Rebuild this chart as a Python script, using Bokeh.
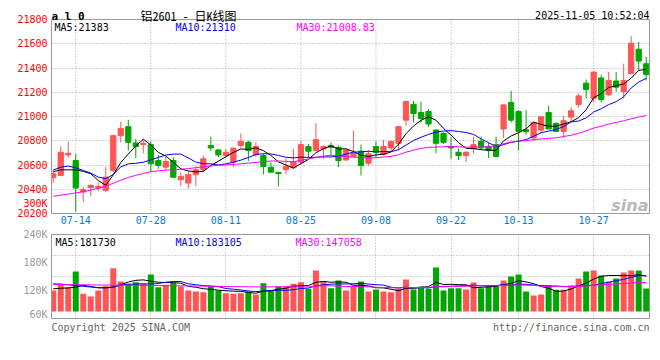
import numpy as np
import pandas as pd
from bokeh.plotting import figure
from bokeh.layouts import column
from bokeh.models import Range1d, FixedTicker, Label, ColumnDataSource, Span, LinearAxis
from bokeh.embed import file_html
from bokeh.resources import INLINE

# ---------------- data ----------------
dates = [
    "07-09", "07-10", "07-11", "07-14", "07-15", "07-16", "07-17", "07-18", "07-21", "07-22",
    "07-23", "07-24", "07-25", "07-28", "07-29", "07-30", "07-31", "08-01", "08-04", "08-05",
    "08-06", "08-07", "08-08", "08-11", "08-12", "08-13", "08-14", "08-15", "08-18", "08-19",
    "08-20", "08-21", "08-22", "08-25", "08-26", "08-27", "08-28", "08-29", "09-01", "09-02",
    "09-03", "09-04", "09-05", "09-08", "09-09", "09-10", "09-11", "09-12", "09-15", "09-16",
    "09-17", "09-18", "09-19", "09-22", "09-23", "09-24", "09-25", "09-26", "09-29", "09-30",
    "10-09", "10-10", "10-13", "10-14", "10-15", "10-16", "10-17", "10-20", "10-21", "10-22",
    "10-23", "10-24", "10-27", "10-28", "10-29", "10-30", "10-31", "11-03", "11-04", "11-05",
]
open_ = [20495, 20514, 20683, 20637, 20377, 20413, 20410, 20391, 20555, 20842,
         20916, 20782, 20768, 20768, 20637, 20582, 20637, 20479, 20451, 20520,
         20561, 20760, 20724, 20678, 20623, 20760, 20787, 20686, 20678, 20582,
         20539, 20561, 20577, 20623, 20752, 20719, 20733, 20760, 20746, 20642,
         20670, 20714, 20615, 20752, 20686, 20741, 20779, 20970, 21101, 21033,
         21041, 20888, 20861, 20752, 20705, 20678, 20733, 20795, 20752, 20768,
         20897, 21115, 21041, 20891, 20823, 20888, 21033, 20943, 20877, 20995,
         21100, 21275, 21151, 21318, 21180, 21293, 21205, 21356, 21555, 21435]
high = [20555, 20752, 20793, 20692, 20418, 20440, 20454, 20582, 20850, 20957,
        20973, 20815, 20809, 20795, 20683, 20664, 20664, 20541, 20541, 20588,
        20678, 20834, 20733, 20733, 20746, 20861, 20801, 20787, 20692, 20623,
        20545, 20656, 20733, 20801, 20774, 20946, 20760, 20787, 20760, 20733,
        20883, 20768, 20719, 20795, 20806, 20801, 20924, 21129, 21129, 21123,
        21060, 20897, 20869, 20828, 20738, 20714, 20834, 20834, 20787, 20834,
        21096, 21211, 21052, 21052, 20951, 20998, 21088, 20951, 21006, 21075,
        21189, 21306, 21375, 21342, 21366, 21366, 21435, 21662, 21615, 21492]
low = [20451, 20510, 20659, 20214, 20296, 20342, 20386, 20377, 20541, 20787,
       20719, 20656, 20697, 20541, 20569, 20555, 20495, 20424, 20405, 20424,
       20541, 20714, 20664, 20664, 20582, 20741, 20632, 20664, 20522, 20533,
       20424, 20522, 20569, 20610, 20664, 20714, 20651, 20678, 20582, 20632,
       20665, 20514, 20596, 20664, 20678, 20705, 20724, 20924, 20951, 20951,
       20916, 20697, 20774, 20651, 20642, 20623, 20697, 20724, 20659, 20670,
       20823, 20951, 20719, 20850, 20801, 20861, 20897, 20877, 20823, 20960,
       21075, 21150, 21115, 21115, 21170, 21205, 21151, 21347, 21380, 21298]
close = [20528, 20705, 20697, 20410, 20397, 20432, 20424, 20500, 20842, 20902,
         20787, 20752, 20779, 20610, 20596, 20629, 20500, 20506, 20520, 20561,
         20651, 20741, 20683, 20705, 20738, 20795, 20719, 20752, 20588, 20541,
         20530, 20588, 20629, 20768, 20714, 20809, 20752, 20746, 20637, 20724,
         20700, 20596, 20692, 20705, 20752, 20793, 20916, 21123, 21025, 20984,
         20938, 20779, 20787, 20741, 20678, 20705, 20768, 20741, 20719, 20670,
         21096, 20970, 20877, 20875, 20951, 20998, 20897, 20877, 20965, 21047,
         21170, 21222, 21366, 21140, 21298, 21242, 21298, 21604, 21457, 21347]
volume = [120000, 134300, 127100, 160700, 112900, 107100, 120000, 129300, 167900, 139300,
          134300, 137900, 134300, 154300, 127100, 132100, 136400, 128600, 120000, 117900,
          116400, 129300, 120000, 114300, 112900, 114300, 117900, 111400, 135700, 120000,
          128600, 128600, 134300, 137900, 123600, 162900, 139300, 125000, 141400, 120000,
          130700, 139300, 117900, 122100, 117900, 116400, 123600, 143600, 122100, 128600,
          123600, 169300, 120000, 125000, 125000, 122100, 137100, 125000, 130700, 128600,
          141400, 150000, 154300, 117900, 109300, 111400, 130700, 121400, 121400, 130700,
          145700, 160700, 162900, 152100, 139300, 145700, 158600, 162900, 162900, 124300]

# moving-average values before enough history is on the chart
ma5_head = [20545, 20560, 20560, 20560]
ma10_head = [20558, 20582, 20591, 20577, 20555, 20533, 20500, 20487, 20522]
ma30_head = [20342, 20351, 20360, 20370, 20380, 20392, 20408, 20425, 20450, 20475,
             20497, 20515, 20530, 20545, 20552, 20557, 20560, 20565, 20570, 20578,
             20585, 20592, 20597, 20601, 20605, 20610, 20615, 20621, 20628]
vol_ma5_head = [123600, 124800, 125500, 127200]
vol_ma10_head = [134300, 133500, 132000, 130600, 129000, 127500, 126300, 125600, 126800]
vol_ma30_head = [133000, 132900, 132700, 132600, 132200, 132000, 131900, 131600, 131500, 131400,
                 131200, 131100, 131000, 130800, 130700, 130500, 130300, 130100, 129900, 129600,
                 129300, 129000, 128800, 128600, 128400, 128200, 128000, 127800, 127700]

price_lo, price_hi = 20200, 21800
price_ticks = [20200, 20400, 20600, 20800, 21000, 21200, 21400, 21600, 21800]
price_grid = [20400, 20600, 20800, 21000, 21200, 21400, 21600]
stray_label_value = 20282          # the "300K" left over in the price scale
stray_label_text = "300K"
vol_ticks = [60000, 120000, 180000, 240000]
vol_tick_labels = ["60K", "120K", "180K", "240K"]
vol_grid = [105000, 150000, 195000]
vol_floor = 75000
date_tick_labels = ["07-14", "07-28", "08-11", "08-25", "09-08", "09-22", "10-13", "10-27"]

title_text = "铝2601  -  日K线图"
code_text = "a l 0"
time_text = "2025-11-05 10:52:04"
price_ma_texts = ["MA5:21383", "MA10:21310", "MA30:21008.83"]
vol_ma_texts = ["MA5:181730", "MA10:183105", "MA30:147058"]
copyright_text = "Copyright 2025 SINA.COM"
url_text = "http://finance.sina.com.cn"

# ---------------- derived ----------------
RED = "#ff5555"
GREEN = "#00a600"
BORDER = "#999999"
GRID = "#a8a8a8"
MONO = "DejaVu Sans Mono"
W = 652
HEADER_PX, PANEL_PX = 19, 194      # header strip sits inside the price frame, above the panel
idx = np.arange(len(close))


def moving_avg(vals, n, head):
    s = pd.Series(vals, dtype=float).rolling(n).mean().to_numpy()
    s[: n - 1] = head
    return s


colors = [RED if c >= o else GREEN for o, c in zip(open_, close)]
src = ColumnDataSource(dict(
    x=idx, open=open_, high=high, low=low, close=close, volume=volume,
    top=np.maximum(open_, close), bottom=np.minimum(open_, close), color=colors,
))
date_tick_idx = [dates.index(d) for d in date_tick_labels]

x_range = Range1d(-0.23, 79.44)


def style_axes(p):
    p.background_fill_color = "white"
    p.border_fill_color = "white"
    for ax in p.axis:
        ax.major_tick_line_color = None
        ax.minor_tick_line_color = None
        ax.major_tick_out = 0
        ax.major_tick_in = 0
        ax.major_label_text_font = MONO
        ax.major_label_text_font_size = "10px"
    for g in p.grid:
        g.grid_line_color = GRID
        g.grid_line_dash = "1 2"
        g.grid_line_width = 1


def add_text(p, text, x, y, color="#000000", size="10px", font=MONO, align="left",
             baseline="alphabetic", fstyle="normal"):
    p.add_layout(Label(x=x, y=y, x_units="screen", y_units="screen", text=text,
                       text_color=color, text_font_size=size, text_font=font,
                       text_align=align, text_baseline=baseline, text_font_style=fstyle))


# ---------------- price panel (frame also holds the header line) ----------------
y_top = price_hi + (price_hi - price_lo) * HEADER_PX / PANEL_PX
p1 = figure(width=W, height=HEADER_PX + PANEL_PX + 15, x_range=x_range,
            y_range=Range1d(price_lo, y_top), title=None,
            output_backend="svg", toolbar_location=None,
            min_border_left=51, min_border_right=3, min_border_top=0, min_border_bottom=15)
p1.outline_line_color = None
p1.xgrid.visible = False
p1.add_layout(LinearAxis(ticker=FixedTicker(ticks=[]), bounds=(price_lo, price_hi),
                         axis_line_color=BORDER), "right")
style_axes(p1)
p1.xaxis.ticker = FixedTicker(ticks=date_tick_idx)
p1.xaxis.major_label_overrides = {i: lab for i, lab in zip(date_tick_idx, date_tick_labels)}
p1.xaxis.major_label_text_color = "#0a78d2"
p1.xaxis.major_label_standoff = 2
p1.xaxis.axis_line_color = BORDER
p1.yaxis[0].ticker = FixedTicker(ticks=price_ticks + [stray_label_value])
p1.yaxis[0].major_label_overrides = {stray_label_value: stray_label_text}
p1.yaxis[0].major_label_text_color = "#ff0000"
p1.yaxis[0].major_label_text_baseline = "alphabetic"
p1.yaxis[0].major_label_standoff = 4
p1.yaxis[0].axis_line_color = BORDER
p1.yaxis[0].bounds = (price_lo, price_hi)
p1.ygrid.ticker = FixedTicker(ticks=price_grid)
p1.add_layout(Span(location=price_hi, dimension="width", line_color=BORDER, line_width=1))

# vertical date grid, limited to the panel
p1.segment(x0=date_tick_idx, y0=price_lo, x1=date_tick_idx, y1=price_hi,
           line_color=GRID, line_dash="1 2", line_width=1)

p1.segment(x0="x", y0="low", x1="x", y1="high", line_color="color", line_width=1, source=src)
p1.vbar(x="x", width=0.7, top="top", bottom="bottom", fill_color="color",
        line_color="color", line_width=1, source=src)
p1.line(idx, moving_avg(close, 5, ma5_head), line_color="#000000", line_width=1)
p1.line(idx, moving_avg(close, 10, ma10_head), line_color="#0000ff", line_width=1)
p1.line(idx, moving_avg(close, 30, ma30_head), line_color="#ff00ff", line_width=1)

add_text(p1, code_text, 0, PANEL_PX + 3, size="11px", fstyle="bold")
add_text(p1, title_text, 89, PANEL_PX + 4, size="12px",
         font="'Noto Sans Mono CJK SC', 'Noto Sans CJK SC', monospace")
add_text(p1, time_text, 598, PANEL_PX + 4, align="right")
add_text(p1, price_ma_texts[0], 3, 186, color="#000000")
add_text(p1, price_ma_texts[1], 124, 186, color="#0000ff")
add_text(p1, price_ma_texts[2], 245, 186, color="#ff00ff")
add_text(p1, "sina", 597, 8, color="#b8b8b8", size="16px", font="DejaVu Sans",
         align="right", fstyle="bold italic")

# ---------------- volume panel ----------------
p2 = figure(width=W, height=91, x_range=x_range, y_range=Range1d(60000, 240000), title=None,
            output_backend="svg", toolbar_location=None,
            min_border_left=51, min_border_right=3, min_border_top=6, min_border_bottom=1)
p2.outline_line_color = BORDER
p2.outline_line_width = 1
style_axes(p2)
p2.xaxis.visible = False
p2.yaxis.ticker = FixedTicker(ticks=vol_ticks)
p2.yaxis.major_label_overrides = {v: lab for v, lab in zip(vol_ticks, vol_tick_labels)}
p2.yaxis.major_label_text_color = "#999999"
p2.yaxis.major_label_standoff = 4
p2.yaxis.axis_line_color = BORDER
p2.xgrid.ticker = FixedTicker(ticks=date_tick_idx)
p2.ygrid.ticker = FixedTicker(ticks=vol_grid)

p2.vbar(x="x", width=0.8, top="volume", bottom=vol_floor, fill_color="color",
        line_color=None, source=src)
p2.line(idx, moving_avg(volume, 5, vol_ma5_head), line_color="#000000", line_width=1)
p2.line(idx, moving_avg(volume, 10, vol_ma10_head), line_color="#0000ff", line_width=1)
p2.line(idx, moving_avg(volume, 30, vol_ma30_head), line_color="#ff00ff", line_width=1)

add_text(p2, vol_ma_texts[0], 4, 76, color="#000000")
add_text(p2, vol_ma_texts[1], 124, 76, color="#0000ff")
add_text(p2, vol_ma_texts[2], 244, 76, color="#ff00ff")

# ---------------- footer ----------------
footer = figure(width=W, height=17, x_range=Range1d(0, 598), y_range=Range1d(0, 17), title=None,
                output_backend="svg", toolbar_location=None,
                min_border_left=51, min_border_right=3, min_border_top=0, min_border_bottom=0,
                x_axis_location=None, y_axis_location=None)
footer.outline_line_color = None
footer.grid.visible = False
footer.background_fill_color = "white"
footer.border_fill_color = "white"
add_text(footer, copyright_text, 0, 9, color="#666666")
add_text(footer, url_text, 598, 9, color="#666666", align="right")

layout = column(p1, p2, footer, spacing=0)
open("out.html", "w").write(file_html(layout, INLINE))
